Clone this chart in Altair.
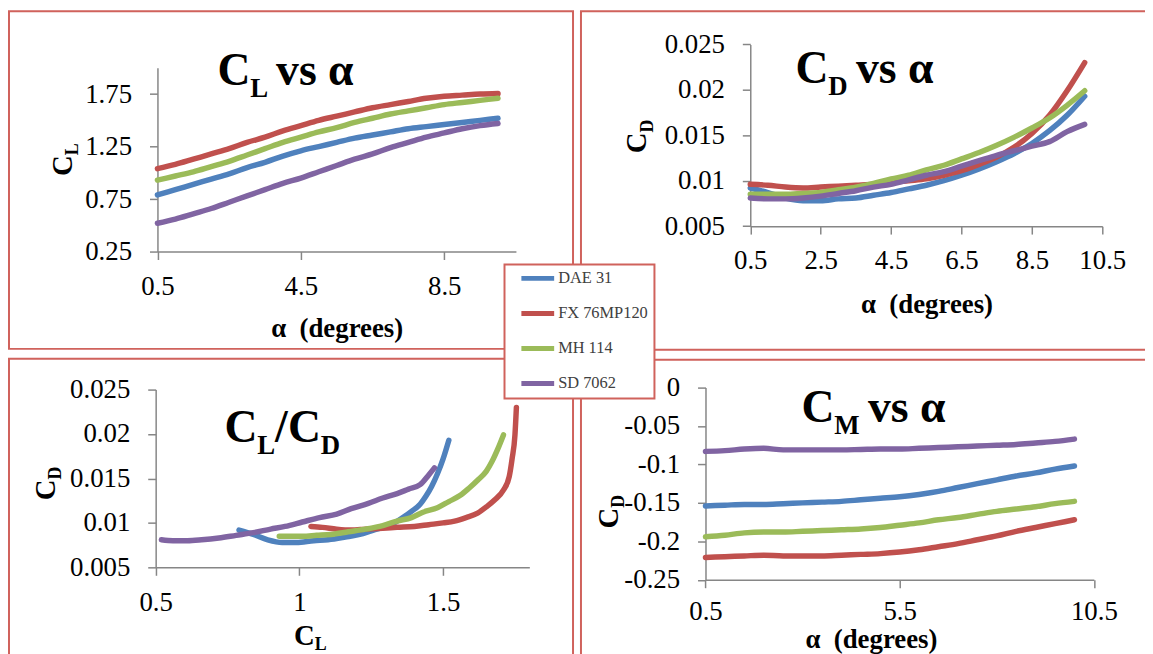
import altair as alt
import pandas as pd

# ---------------- data ----------------
airfoils = ["DAE 31", "FX 76MP120", "MH 114", "SD 7062"]
series_colors = ["#4F81BD", "#C0504D", "#9BBB59", "#8064A2"]

alpha = [0.5, 1.0, 1.5, 2.0, 2.5, 3.0, 3.5, 4.0, 4.5, 5.0,
         5.5, 6.0, 6.5, 7.0, 7.5, 8.0, 8.5, 9.0, 9.5, 10.0]

cl_dae31 = [0.79, 0.84, 0.89, 0.94, 0.99, 1.05, 1.10, 1.16, 1.21, 1.25,
            1.29, 1.33, 1.36, 1.39, 1.42, 1.44, 1.46, 1.48, 1.50, 1.52]
cl_fx76 = [1.04, 1.08, 1.13, 1.18, 1.23, 1.29, 1.34, 1.40, 1.45, 1.50,
           1.54, 1.58, 1.62, 1.65, 1.68, 1.71, 1.73, 1.74, 1.75, 1.755]
cl_mh114 = [0.93, 0.97, 1.01, 1.06, 1.11, 1.17, 1.23, 1.29, 1.34, 1.39,
            1.43, 1.48, 1.52, 1.56, 1.59, 1.62, 1.65, 1.67, 1.69, 1.71]
cl_sd7062 = [0.52, 0.56, 0.61, 0.66, 0.72, 0.78, 0.84, 0.90, 0.95, 1.01,
             1.07, 1.13, 1.18, 1.24, 1.29, 1.34, 1.38, 1.42, 1.45, 1.47]

cd_dae31 = [0.0092, 0.0087, 0.0081, 0.0078, 0.0078, 0.0080, 0.0081, 0.0084, 0.0087, 0.0091,
            0.0095, 0.0100, 0.0106, 0.0113, 0.0121, 0.0130, 0.0141, 0.0155, 0.0172, 0.0193]
cd_fx76 = [0.0096, 0.0095, 0.0093, 0.0092, 0.0093, 0.0094, 0.0095, 0.0096, 0.0098, 0.0100,
           0.0102, 0.0106, 0.0111, 0.0118, 0.0126, 0.0137, 0.0152, 0.0172, 0.0199, 0.0230]
cd_mh114 = [0.0085, 0.0085, 0.0085, 0.0086, 0.0087, 0.0090, 0.0093, 0.0097, 0.0102, 0.0106,
            0.0112, 0.0117, 0.0124, 0.0131, 0.0139, 0.0148, 0.0158, 0.0169, 0.0183, 0.0199]
cd_sd7062 = [0.0081, 0.0080, 0.0080, 0.0081, 0.0083, 0.0086, 0.0089, 0.0093, 0.0096, 0.0101,
             0.0106, 0.0110, 0.0116, 0.0122, 0.0128, 0.0133, 0.0138, 0.0143, 0.0154, 0.0162]

cm_dae31 = [-0.154, -0.153, -0.152, -0.152, -0.151, -0.150, -0.149, -0.148, -0.146, -0.144,
            -0.142, -0.139, -0.135, -0.130, -0.125, -0.120, -0.115, -0.111, -0.106, -0.102]
cm_fx76 = [-0.221, -0.220, -0.219, -0.218, -0.219, -0.219, -0.219, -0.218, -0.217, -0.216,
           -0.214, -0.211, -0.207, -0.203, -0.198, -0.193, -0.187, -0.182, -0.177, -0.172]
cm_mh114 = [-0.194, -0.192, -0.189, -0.188, -0.188, -0.187, -0.186, -0.185, -0.184, -0.182,
            -0.179, -0.176, -0.172, -0.169, -0.165, -0.161, -0.158, -0.155, -0.151, -0.148]
cm_sd7062 = [-0.083, -0.082, -0.080, -0.079, -0.081, -0.081, -0.081, -0.081, -0.0805, -0.080,
             -0.080, -0.079, -0.078, -0.077, -0.076, -0.075, -0.074, -0.072, -0.070, -0.067]

p1_x_ticks = [0.5, 4.5, 8.5]
p1_y_ticks = [0.25, 0.75, 1.25, 1.75]
p2_x_ticks = [0.5, 2.5, 4.5, 6.5, 8.5, 10.5]
p2_y_ticks = [0.005, 0.01, 0.015, 0.02, 0.025]
p3_x_ticks = [0.5, 1.0, 1.5]
p3_y_ticks = [0.005, 0.01, 0.015, 0.02, 0.025]
p4_x_ticks = [0.5, 5.5, 10.5]
p4_y_ticks = [-0.25, -0.2, -0.15, -0.1, -0.05, 0.0]

cl = dict(zip(airfoils, [cl_dae31, cl_fx76, cl_mh114, cl_sd7062]))
cd = dict(zip(airfoils, [cd_dae31, cd_fx76, cd_mh114, cd_sd7062]))
cm = dict(zip(airfoils, [cm_dae31, cm_fx76, cm_mh114, cm_sd7062]))

rows = []
for name in airfoils:
    for i, a in enumerate(alpha):
        rows.append({"airfoil": name, "alpha": a, "CL": cl[name][i],
                     "CD": cd[name][i], "CM": cm[name][i]})
df = pd.DataFrame(rows)

# ---------------- layout helpers ----------------
W, H = 1145, 646
SERIF = "Liberation Serif"
FRAME = "#D0625C"
one = alt.Data(values=[{"k": 0}])


def px(x):
    return x - 8


def py(y):
    return y - 8


legend = alt.Legend(orient="none", legendX=px(508), legendY=py(264), title=None,
                    padding=6, clipHeight=16, symbolType="stroke", symbolSize=1089,
                    symbolStrokeWidth=5, symbolOffset=8.5, labelOffset=1.5,
                    rowPadding=18.3, labelFont=SERIF, labelFontSize=16.5,
                    labelColor="#404040", strokeColor=FRAME, fillColor="white")
color_enc = alt.Color("airfoil:N", scale=alt.Scale(domain=airfoils, range=series_colors),
                      legend=legend)


def panel(xfield, yfield, xdom, xr, xticks, xfmt, ydom, yr, yticks, yfmt=None,
          ylabelexpr=None, xtitle=None, xlabelpad=14):
    xa = dict(orient="bottom", values=xticks, format=xfmt, offset=py(yr[0]) - H,
              labelPadding=xlabelpad)
    if xtitle:
        xa.update(title=xtitle[0], titleX=px(xtitle[1]), titleY=xtitle[2] - yr[0],
                  titleAlign="center", titleBaseline="alphabetic")
    else:
        xa["title"] = None
    ya = dict(orient="left", values=yticks, offset=-px(xr[0]), labelPadding=18, title=None)
    if yfmt:
        ya["format"] = yfmt
    if ylabelexpr:
        ya["labelExpr"] = ylabelexpr
    return alt.Chart(df).mark_line(strokeWidth=5.5, interpolate="monotone",
                                   strokeCap="round").encode(
        x=alt.X(f"{xfield}:Q",
                scale=alt.Scale(domain=xdom, range=[px(xr[0]), px(xr[1])], nice=False, zero=False),
                axis=alt.Axis(**xa)),
        y=alt.Y(f"{yfield}:Q",
                scale=alt.Scale(domain=ydom, range=[py(yr[0]), py(yr[1])], nice=False, zero=False),
                axis=alt.Axis(**ya)),
        color=color_enc,
        order=alt.Order("alpha:Q"),
    )


def txt(s, x, y, size, align="left", angle=None):
    kw = dict(text=s, fontSize=size, font=SERIF, fontWeight="bold", align=align,
              baseline="alphabetic", color="black")
    if angle is not None:
        kw["angle"] = angle
    return alt.Chart(one).mark_text(**kw).encode(x=alt.value(px(x)), y=alt.value(py(y)))


def frame(x0, y0, x1, y1):
    return alt.Chart(one).mark_rect(fillOpacity=0, stroke=FRAME, strokeWidth=2).encode(
        x=alt.value(px(x0)), x2=alt.value(px(x1)), y=alt.value(py(y0)), y2=alt.value(py(y1)))


ALPHA_T = "α\u00a0 (degrees)"

frames = [frame(9, 9, 577, 349), frame(585, 9, 1160, 350),
          frame(9, 359, 577, 665), frame(585, 360, 1160, 665)]

p1 = panel("alpha", "CL", [0.5, 10.5], (158.5, 519.5), p1_x_ticks, ".1f",
           [0.25, 2.0], (251, 66), p1_y_ticks, yfmt=".2f", xtitle=(ALPHA_T, 339, 337))
p2 = panel("alpha", "CD", [0.5, 10.5], (755.5, 1110), p2_x_ticks, ".1f",
           [0.005, 0.025], (225.4, 42.4), p2_y_ticks, yfmt=".3~f", xtitle=(ALPHA_T, 933, 312))
p3 = panel("CL", "CD", [0.5, 1.8], (156.7, 533), p3_x_ticks, ".1~f",
           [0.005, 0.025], (569, 390), p3_y_ticks, yfmt=".3~f")
p4 = panel("alpha", "CM", [0.5, 10.5], (710.4, 1101.5), p4_x_ticks, ".1f",
           [-0.25, 0.0], (581.5, 388), p4_y_ticks,
           ylabelexpr="datum.value == 0 ? '0' : '-' + format(-datum.value, '.2~f')",
           xtitle=(ALPHA_T, 877, 650), xlabelpad=11)

texts = [
    # panel titles
    txt("C", 219, 83, 46), txt("L", 252, 95, 27), txt("vs α", 278, 83, 46),
    txt("C", 801, 81, 46), txt("D", 834, 93, 27), txt("vs α", 862, 81, 46),
    txt("C", 226, 443, 46), txt("L", 259, 455, 27), txt("/", 277, 443, 46),
    txt("C", 290, 443, 46), txt("D", 323, 455, 27),
    txt("C", 807, 423, 46), txt("M", 840, 435, 27), txt("vs α", 874, 423, 46),
    # y axis titles (rotated)
    txt("C", 72, 154, 29, align="right", angle=270), txt("L", 78, 154, 18, angle=270),
    txt("C", 650, 131, 29, align="right", angle=270), txt("D", 658, 131, 18, angle=270),
    txt("C", 55.5, 480.5, 29, align="right", angle=270), txt("D", 61, 480.5, 18, angle=270),
    txt("C", 622.6, 509, 29, align="right", angle=270), txt("D", 628, 509, 18, angle=270),
    # x axis title of the CL/CD panel
    txt("C", 296, 647, 29), txt("L", 317, 652, 18),
]

chart = alt.layer(*frames, p1, p2, p3, p4, *texts).resolve_scale(
    x="independent", y="independent"
).resolve_axis(
    x="independent", y="independent"
).properties(
    width=W, height=H, autosize=alt.AutoSizeParams(type="none"), padding=0
).configure_view(
    strokeWidth=0
).configure_axis(
    domainColor="#868686", domainWidth=1.5, tickColor="#868686", tickWidth=1.5,
    tickSize=8, labelFont=SERIF, labelFontSize=27, labelColor="black", grid=False,
    labelFlush=False, titleFont=SERIF, titleFontSize=27, titleFontWeight="bold",
    titleColor="black"
).configure_legend(strokeWidth=2)

chart.save("out.html", embed_options={"renderer": "svg", "actions": False})
